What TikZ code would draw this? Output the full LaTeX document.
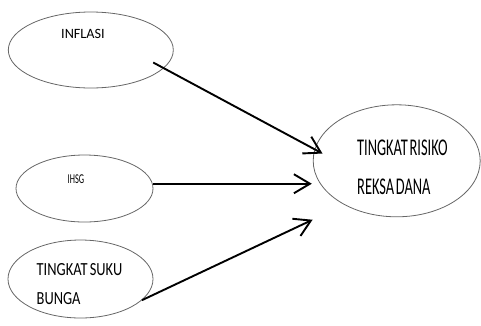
\documentclass[tikz,border=0pt]{standalone}
\usepackage{fontspec}
\usepackage{tikz}
\usepackage{xcolor}
\usetikzlibrary{shapes.geometric,arrows.meta}
\setmainfont{Carlito}
\newfontfamily\lblwide{Carlito}
\newfontfamily\lblnarrow[FakeStretch=0.62]{Carlito}
\newfontfamily\lblmid[FakeStretch=0.78,WordSpace=0.7]{Carlito}
\newfontfamily\lbltall[FakeStretch=0.6,WordSpace=0.5]{Carlito}

\begin{document}
\begin{tikzpicture}[x=1pt,y=-1pt,
  oval/.style={ellipse,draw=black!60,line width=0.8pt,inner sep=0pt},
  lbl/.style={inner sep=0pt,align=left},
  arr/.style={line width=1.9pt,-{Straight Barb[length=16pt,width=19pt]}}]
\useasboundingbox (0,0) rectangle (481,325);
% inflasi
\node[oval,minimum width=165pt,minimum height=76pt] (inflasi) at (90.8,50) {};
\node[lbl,anchor=base west,font={\lblwide\fontsize{14.2}{17}\selectfont}] (inflasitxt) at (61,38.3) {INFLASI};
% ihsg
\node[oval,minimum width=137pt,minimum height=67pt] (ihsg) at (84.5,188.5) {};
\node[lbl,anchor=base west,font={\lblnarrow\fontsize{13.5}{15}\selectfont}] (ihsgtxt) at (67.5,183.7) {IHSG};
% tingkat suku bunga
\node[oval,minimum width=145pt,minimum height=78pt] (bunga) at (80.5,279) {};
\node[lbl,anchor=north west,font={\lblmid\fontsize{18.5}{29}\selectfont}] (bungatxt) at (36.5,263.3) {TINGKAT SUKU\\BUNGA};
% tingkat risiko reksa dana
\node[oval,minimum width=167pt,minimum height=112pt] (target) at (396.7,160.8) {};
\node[lbl,anchor=north west,font={\lbltall\fontsize{24}{39}\selectfont}] (targettxt) at (357,139.3) {TINGKAT RISIKO\\REKSA DANA};
% arrows
\draw[arr,shorten <=-12pt,shorten >=-9pt] (inflasi.-14) -- (target.172);
\draw[arr,shorten >=1pt] (ihsg.4) -- (ihsg.4 -| target.west);
\draw[arr,shorten >=35pt] (bunga.-19) -- (target.220);
\end{tikzpicture}
\end{document}
